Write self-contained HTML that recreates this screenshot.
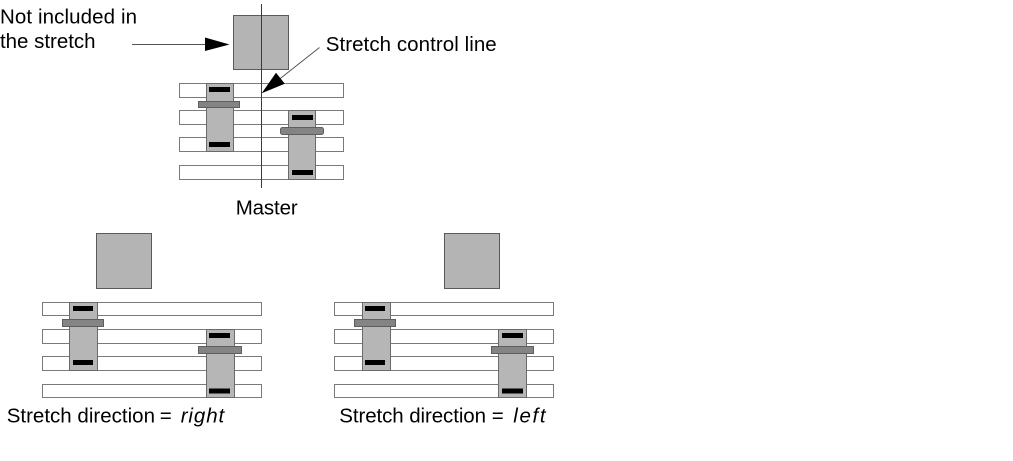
<!DOCTYPE html>
<html><head><meta charset="utf-8"><style>
html,body{margin:0;padding:0;background:#fff;}
svg{display:block;}
text{font-family:"Liberation Sans",Arial,sans-serif;font-size:20.5px;fill:#000;}
.row{fill:#fff;stroke:#7a7a7a;stroke-width:1;}
.col{fill:#b6b6b6;stroke:#6a6a6a;stroke-width:1;}
.sq{fill:#b4b4b4;stroke:#5a5a5a;stroke-width:1;}
.blk{fill:#000;}
.dk{fill:#848484;stroke:#5e5e5e;stroke-width:1;}
</style></head><body>
<svg width="1013" height="461" viewBox="0 0 1013 461" xmlns="http://www.w3.org/2000/svg">
<!-- Master -->
<rect class="sq" x="233.5" y="15.5" width="55" height="54"/>
<rect class="row" x="179.5" y="83.5" width="164" height="14"/>
<rect class="row" x="179.5" y="110.5" width="164" height="14"/>
<rect class="row" x="179.5" y="137.5" width="164" height="14"/>
<rect class="row" x="179.5" y="165.5" width="164" height="14"/>
<rect class="col" x="206.5" y="83.5" width="27" height="68"/>
<rect class="blk" x="209" y="87" width="21" height="5"/>
<rect class="blk" x="209" y="142" width="21" height="5"/>
<rect class="dk" x="198.5" y="101.5" width="41" height="6"/>
<rect class="col" x="288.5" y="110.5" width="27" height="69"/>
<rect class="blk" x="292" y="115" width="21" height="5"/>
<rect class="blk" x="292" y="170" width="21" height="5"/>
<rect class="dk" x="280.5" y="127.5" width="43" height="7" rx="2"/>
<line x1="261.5" y1="4" x2="261.5" y2="188" stroke="#3a3a3a" stroke-width="1"/>
<!-- arrows -->
<line x1="132" y1="44.5" x2="208" y2="44.5" stroke="#555" stroke-width="1"/>
<polygon points="205,37.5 229.5,44.5 205,51" fill="#000"/>
<line x1="319.5" y1="47.5" x2="279" y2="79.5" stroke="#555" stroke-width="1"/>
<polygon points="261.7,93.3 276,72.8 284.8,83.8" fill="#000"/>
<text x="0" y="23.5" textLength="137" lengthAdjust="spacing">Not included in</text>
<text x="0" y="48" textLength="95.5" lengthAdjust="spacing">the stretch</text>
<text x="325.7" y="51" textLength="171" lengthAdjust="spacing">Stretch control line</text>
<text x="235.7" y="214.5" textLength="62" lengthAdjust="spacing">Master</text>

<!-- Bottom left -->
<rect class="sq" x="96.5" y="233.5" width="55" height="55"/>
<rect class="row" x="42.5" y="302.5" width="219" height="13"/>
<rect class="row" x="42.5" y="329.5" width="219" height="14"/>
<rect class="row" x="42.5" y="356.5" width="219" height="14"/>
<rect class="row" x="42.5" y="384.5" width="219" height="13"/>
<rect class="col" x="69.5" y="302.5" width="28" height="68"/>
<rect class="blk" x="73" y="306" width="20" height="5"/>
<rect class="blk" x="73" y="360" width="20" height="5"/>
<rect class="dk" x="62.5" y="319.5" width="41" height="7"/>
<rect class="col" x="206.5" y="329.5" width="28" height="68"/>
<rect class="blk" x="209" y="333" width="21" height="5"/>
<rect class="blk" x="209" y="388.5" width="21" height="5"/>
<rect class="dk" x="198.5" y="346.5" width="43" height="7"/>
<text x="6.7" y="422.3" textLength="148.3" lengthAdjust="spacing">Stretch direction</text>
<text x="159.7" y="422.3">=</text>
<text x="180.7" y="422.3" font-style="italic" textLength="43.5" lengthAdjust="spacing">right</text>

<!-- Bottom right -->
<rect class="sq" x="444.5" y="233.5" width="55" height="55"/>
<rect class="row" x="334.5" y="302.5" width="219" height="13"/>
<rect class="row" x="334.5" y="329.5" width="219" height="14"/>
<rect class="row" x="334.5" y="356.5" width="219" height="14"/>
<rect class="row" x="334.5" y="384.5" width="219" height="13"/>
<rect class="col" x="362.5" y="302.5" width="28" height="68"/>
<rect class="blk" x="365" y="306" width="20" height="5"/>
<rect class="blk" x="365" y="360" width="20" height="5"/>
<rect class="dk" x="354.5" y="319.5" width="41" height="7"/>
<rect class="col" x="498.5" y="329.5" width="28" height="68"/>
<rect class="blk" x="502" y="333" width="21" height="5"/>
<rect class="blk" x="502" y="388.5" width="21" height="5"/>
<rect class="dk" x="491.5" y="346.5" width="42" height="7"/>
<text x="339.3" y="422.3" textLength="146.7" lengthAdjust="spacing">Stretch direction</text>
<text x="491.7" y="422.3">=</text>
<text x="513.3" y="422.3" font-style="italic" textLength="32.3" lengthAdjust="spacing">left</text>
</svg>
</body></html>
